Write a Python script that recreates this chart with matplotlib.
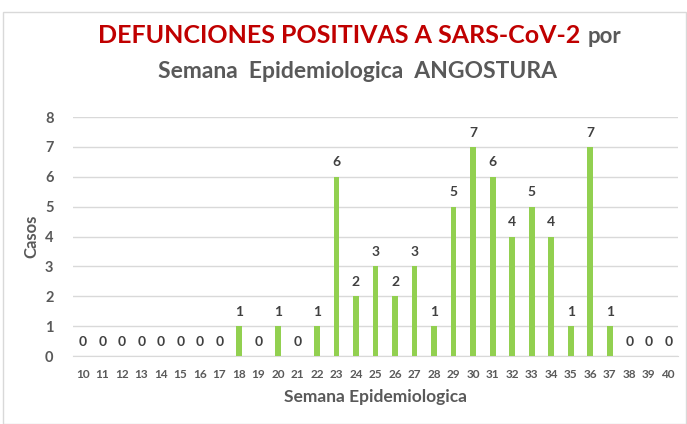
import matplotlib.pyplot as plt
import numpy as np

# semanas epidemiologicas y defunciones por semana
semanas = list(range(10, 41))
casos = [0, 0, 0, 0, 0, 0, 0, 0, 1, 0, 1, 0, 1, 6, 2, 3, 2, 3, 1, 5,
         7, 6, 4, 5, 4, 1, 7, 1, 0, 0, 0]
y_ticks = list(range(0, 9))

verde = "#92D050"
gris = "#595959"
rojo = "#C00000"

plt.rcParams["font.family"] = ["Lato", "DejaVu Sans"]

fig = plt.figure(figsize=(6.87, 4.24), dpi=100)
W, H = 687, 424

# marco del grafico
fig.add_artist(plt.Rectangle((3 / W, 0), 683 / W, 412 / H, transform=fig.transFigure,
                             fill=False, edgecolor="#D9D9D9", lw=1))

ax = fig.add_axes([73 / W, (H - 356) / H, 605 / W, 239 / H])
x = np.arange(len(semanas))
ax.bar(x, casos, width=0.3, color=verde, zorder=3)
for xi, v in zip(x, casos):
    ax.text(xi, v + 0.28, str(v), ha="center", va="bottom", fontsize=10,
            fontweight="bold", color="#404040")

ax.set_xlim(-0.5, len(semanas) - 0.5)
ax.set_ylim(0, 8)
ax.set_yticks(y_ticks)
ax.set_yticklabels([str(t) for t in y_ticks], fontsize=10.5, fontweight="bold", color=gris)
ax.set_xticks(x)
ax.set_xticklabels([str(s) for s in semanas], fontsize=8.5, fontweight="bold", color=gris)
ax.tick_params(axis="both", length=0)
ax.tick_params(axis="y", pad=14)
ax.tick_params(axis="x", pad=9)
ax.grid(axis="y", color="#D9D9D9", lw=1, zorder=0)
for s in ["top", "right", "left"]:
    ax.spines[s].set_visible(False)
ax.spines["bottom"].set_color("#D9D9D9")

ax.set_ylabel("Casos", fontsize=12, fontweight="bold", color=gris, labelpad=4)
ax.set_xlabel("Semana Epidemiologica", fontsize=12.5, fontweight="bold", color=gris, labelpad=7)

# titulo en dos colores
fig.text(580 / W, 1 - 43 / H, "DEFUNCIONES POSITIVAS A SARS-CoV-2", ha="right", va="baseline",
         fontsize=18, fontweight="bold", color=rojo)
fig.text(588 / W, 1 - 43 / H, "por", ha="left", va="baseline",
         fontsize=16, fontweight="bold", color=gris)
fig.text(357 / W, 1 - 78 / H, "Semana  Epidemiologica  ANGOSTURA", ha="center", va="baseline",
         fontsize=16.5, fontweight="bold", color=gris)

fig.savefig("out.png", dpi=100)
